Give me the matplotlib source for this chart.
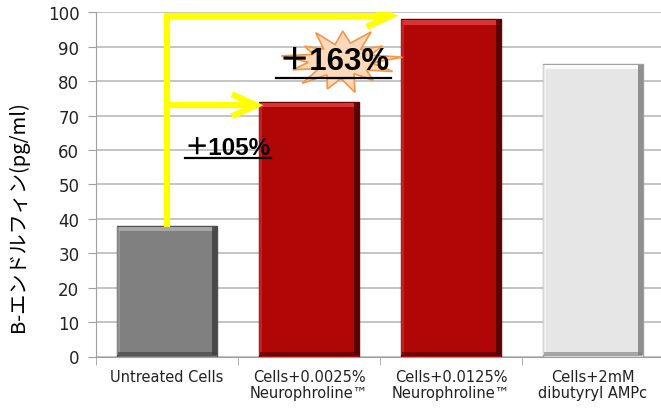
import matplotlib.pyplot as plt
from matplotlib.patches import Polygon
import numpy as np

plt.rcParams['font.family'] = ['DejaVu Sans']

categories = ["Untreated Cells", "Cells+0.0025%\nNeurophroline\u2122",
              "Cells+0.0125%\nNeurophroline\u2122", "Cells+2mM\ndibutyryl AMPc"]
values = [38, 74, 98, 85]
yticks = [0, 10, 20, 30, 40, 50, 60, 70, 80, 90, 100]
increase_labels = ["\uff0b105%", "\uff0b163%"]

# fill, top highlight, right shade, edge
styles = [
    ("#808080", "#a6a6a6", "#3c3c3c", "#505050"),
    ("#b00606", "#d83434", "#4a0000", "#6e0000"),
    ("#b00606", "#d83434", "#4a0000", "#6e0000"),
    ("#e6e6e6", "#fafafa", "#7a7a7a", "#a0a0a0"),
]

fig = plt.figure(figsize=(6.61, 4.10), dpi=100)
ax = fig.add_axes([96 / 661, 52.5 / 410, 568 / 661, 344.2 / 410])

x = np.arange(len(categories))
w = 0.71
for i, v in enumerate(values):
    fill, top, shade, edge = styles[i]
    ax.bar(x[i], v, width=w, color=fill, edgecolor=edge, linewidth=1.0, zorder=2)
    # bevel strips
    ax.bar(x[i], 1.3, width=w - 0.04, bottom=v - 1.6, color=top, linewidth=0, zorder=3)
    ax.bar(x[i] + w / 2 - 0.02, v - 0.6, width=0.035, bottom=0.3, color=shade,
           linewidth=0, zorder=3, alpha=0.8)
    ax.bar(x[i] - w / 2 + 0.015, v - 0.6, width=0.025, bottom=0.3, color=top,
           linewidth=0, zorder=3, alpha=0.6)
    ax.bar(x[i], 1.0, width=w - 0.02, bottom=0.2, color=shade, linewidth=0,
           zorder=3, alpha=0.6)

ax.set_xlim(-0.5, 3.5)
ax.set_ylim(0, 100)
ax.set_yticks(yticks)
ax.tick_params(axis='y', labelsize=12, length=6, color="#a0a0a0", direction='out',
               pad=6, labelcolor="#222222")
ax.yaxis.grid(True, color="#b4b4b4", linewidth=1.1, zorder=0)
ax.set_axisbelow(True)

ax.set_xticks(x)
ax.set_xticklabels(categories, fontsize=10.5, linespacing=1.05)
ax.tick_params(axis='x', length=0, pad=9, labelcolor="#222222")
ax.set_xticks(np.arange(-0.5, 4, 1), minor=True)
ax.tick_params(axis='x', which='minor', length=6, color="#a0a0a0")

for s in ["top", "right"]:
    ax.spines[s].set_visible(False)
ax.spines["left"].set_color("#a0a0a0")
ax.spines["bottom"].set_color("#a0a0a0")

ax.set_ylabel("B-エンドルフィン(pg/ml)", fontsize=14.5,
              family=['Noto Sans CJK JP', 'DejaVu Sans'])
ax.yaxis.set_label_coords(-0.118, 0.41)

# yellow arrows
yel = "#ffff00"
lw = 4.5
top_y, low_y = 99, 73
ax.plot([x[0], x[0], 1.577], [values[0] - 0.5, top_y, top_y], color=yel, lw=lw,
        solid_capstyle='butt', solid_joinstyle='miter', zorder=5)
ax.plot([x[0], 0.627], [low_y, low_y], color=yel, lw=lw, solid_capstyle='butt', zorder=5)
for tip_x, tip_y in [(1.577, top_y), (0.627, low_y)]:
    ax.plot([tip_x - 0.17, tip_x, tip_x - 0.17], [tip_y + 3.2, tip_y, tip_y - 3.2],
            color=yel, lw=lw, solid_joinstyle='miter', solid_capstyle='butt', zorder=5)

# starburst behind +163%
cx, cy = 1.23, 86.0
ang = np.linspace(0, 2 * np.pi, 27)[:-1] + 0.1
rad = np.array([1.0, 0.5, 0.8, 0.45, 1.0, 0.55, 0.9, 0.5, 0.95, 0.45, 0.75, 0.5,
                1.0, 0.55, 0.85, 0.45, 0.95, 0.5, 0.9, 0.55, 1.0, 0.45, 0.8, 0.5,
                0.9, 0.5])
pts = np.column_stack([cx + 0.43 * rad * np.cos(ang), cy + 9.5 * rad * np.sin(ang)])
ax.add_patch(Polygon(pts, closed=True, facecolor="#fcd9bb", edgecolor="#f79646",
                     linewidth=1.2, zorder=4))

lab_font = ['Liberation Sans', 'Noto Sans CJK JP']
ax.text(0.43, 60.8, increase_labels[0], fontsize=17.5, fontweight='bold', ha='center',
        va='center', family=lab_font, zorder=6)
ax.plot([0.127, 0.732], [57.6, 57.6], color="black", lw=1.6, zorder=6)
ax.text(1.18, 85.8, increase_labels[1], fontsize=22.5, fontweight='bold', ha='center',
        va='center', family=lab_font, zorder=6)
ax.plot([0.768, 1.577], [80.9, 80.9], color="black", lw=1.6, zorder=6)

fig.savefig("out.png", dpi=100)
